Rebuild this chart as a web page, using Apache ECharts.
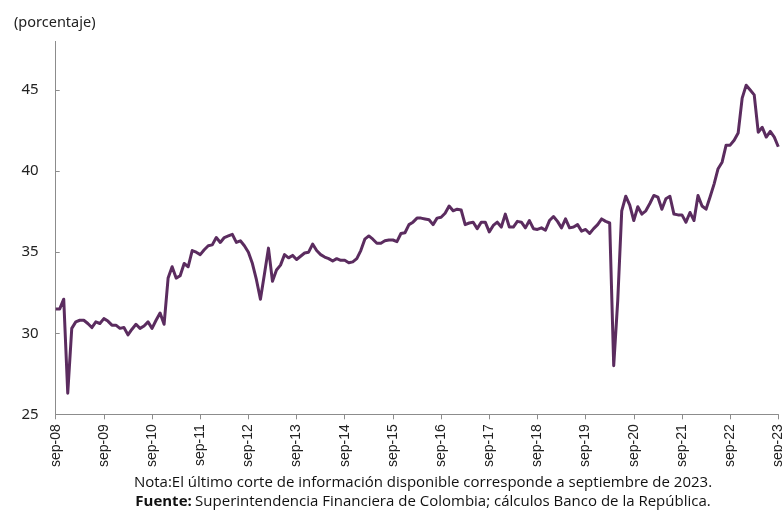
<!DOCTYPE html>
<html>
<head>
<meta charset="utf-8">
<script src="https://cdn.jsdelivr.net/npm/echarts@6/dist/echarts.min.js"></script>
<style>
  html, body { margin: 0; padding: 0; background: #fff; }
  #chart { width: 782px; height: 510px; }
</style>
</head>
<body>
<div id="chart"></div>
<script>
// Monthly series, September 2008 to September 2023 (percent)
const startYear = 2008;
const startMonth = 8; // zero-based: September
const monthNames = ['ene', 'feb', 'mar', 'abr', 'may', 'jun', 'jul', 'ago', 'sep', 'oct', 'nov', 'dic'];

const values = [
  31.5, 31.5, 32.1, 26.3, 30.3, 30.7, 30.8, 30.8, 30.6, 30.35, 30.7, 30.6,
  30.9, 30.75, 30.5, 30.5, 30.3, 30.35, 29.9, 30.25, 30.55, 30.3, 30.45, 30.7,
  30.3, 30.8, 31.25, 30.55, 33.4, 34.1, 33.4, 33.55, 34.3, 34.1, 35.1, 35.0,
  34.85, 35.15, 35.4, 35.45, 35.9, 35.6, 35.9, 36.0, 36.1, 35.6, 35.7, 35.4,
  35.0, 34.3, 33.3, 32.1, 33.65, 35.25, 33.2, 33.9, 34.2, 34.85, 34.65, 34.8,
  34.55, 34.75, 34.95, 35.0, 35.5, 35.1, 34.85, 34.7, 34.6, 34.45, 34.6, 34.5,
  34.5, 34.35, 34.4, 34.6, 35.1, 35.8, 36.0, 35.8, 35.55, 35.55, 35.7, 35.75,
  35.75, 35.65, 36.15, 36.2, 36.7, 36.85, 37.1, 37.1, 37.05, 37.0, 36.7, 37.1,
  37.15, 37.4, 37.85, 37.55, 37.65, 37.6, 36.7, 36.8, 36.85, 36.45, 36.85, 36.85,
  36.25, 36.65, 36.85, 36.55, 37.35, 36.55, 36.55, 36.9, 36.85, 36.5, 36.95, 36.45,
  36.4, 36.5, 36.35, 36.95, 37.2, 36.9, 36.5, 37.05, 36.5, 36.55, 36.7, 36.3,
  36.4, 36.15, 36.45, 36.7, 37.05, 36.9, 36.8, 28.0, 32.0, 37.55, 38.45, 37.9,
  36.95, 37.8, 37.35, 37.55, 38.0, 38.5, 38.4, 37.65, 38.3, 38.45, 37.35, 37.3,
  37.3, 36.85, 37.45, 36.95, 38.5, 37.85, 37.65, 38.4, 39.2, 40.15, 40.55, 41.6,
  41.6, 41.9, 42.35, 44.5, 45.3, 45.0, 44.7, 42.4, 42.7, 42.1, 42.45, 42.1,
  41.5
];

const yTicks = [25, 30, 35, 40, 45];

// Category labels such as "sep-08", one per month
const categories = values.map(function (_, i) {
  const m = (startMonth + i) % 12;
  const y = startYear + Math.floor((startMonth + i) / 12);
  return monthNames[m] + '-' + String(y % 100).padStart(2, '0');
});

const axisGrey = '#8c8c8c';
const lineColor = '#5b2c5f';
const footFont = '"Open Sans", sans-serif';

const chart = echarts.init(document.getElementById('chart'), null, { renderer: 'canvas' });
chart.setOption({
  animation: false,
  backgroundColor: '#ffffff',
  grid: {
    left: 55.7, right: 3.7, top: 41.4, bottom: 95.7,
    containLabel: false, outerBoundsMode: 'none'
  },
  title: [
    {
      text: '(porcentaje)', left: 9, top: 10,
      textStyle: { fontFamily: 'Noto Sans', fontSize: 14.5, fontWeight: 'normal', color: '#222' }
    }
  ],
  graphic: [
    {
      type: 'text', x: 423, y: 483,
      style: {
        text: 'Nota:El último corte de información disponible corresponde a septiembre de 2023.',
        font: '15px ' + footFont, fill: '#111', align: 'center', verticalAlign: 'middle'
      }
    },
    {
      type: 'text', x: 423, y: 502,
      style: {
        rich: {
          b: { font: 'bold 15px ' + footFont, fill: '#111' },
          n: { font: '15px ' + footFont, fill: '#111' }
        },
        text: '{b|Fuente:} {n|Superintendencia Financiera de Colombia; cálculos Banco de la República.}',
        align: 'center', verticalAlign: 'middle'
      }
    }
  ],
  xAxis: {
    type: 'category',
    data: categories,
    boundaryGap: false,
    axisLine: { lineStyle: { color: axisGrey, width: 1 } },
    axisTick: { interval: 11, length: 5, lineStyle: { color: axisGrey } },
    axisLabel: {
      interval: 11, rotate: 90, margin: 10,
      fontFamily: 'Liberation Sans', fontSize: 14, color: '#222'
    },
    splitLine: { show: false }
  },
  yAxis: {
    type: 'value',
    min: 25, max: 48, interval: 5,
    axisLine: { show: true, lineStyle: { color: axisGrey, width: 1 } },
    axisTick: { show: true, inside: true, length: 4, customValues: yTicks, lineStyle: { color: axisGrey } },
    axisLabel: {
      customValues: yTicks, margin: 17,
      fontFamily: 'Noto Sans', fontSize: 15, color: '#222'
    },
    splitLine: { show: false }
  },
  series: [
    {
      type: 'line',
      data: values,
      showSymbol: false,
      lineStyle: { color: lineColor, width: 3, join: 'round' },
      itemStyle: { color: lineColor }
    }
  ]
});
</script>
</body>
</html>
